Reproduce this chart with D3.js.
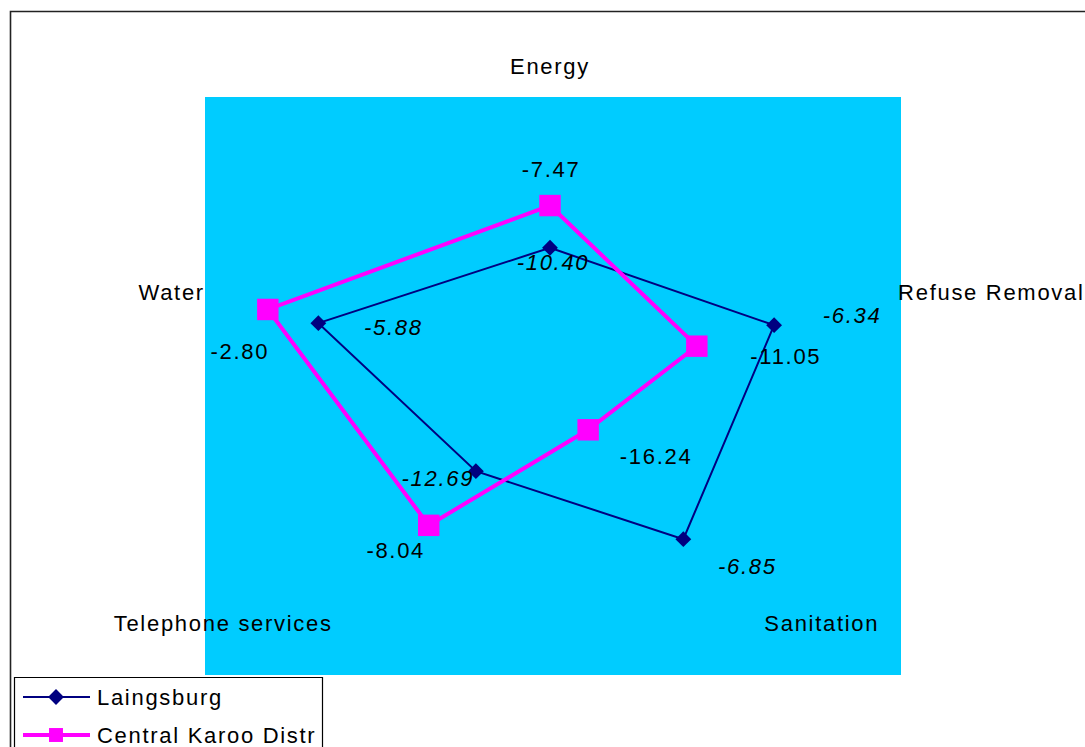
<!DOCTYPE html>
<html lang="en">
<head>
  <meta charset="UTF-8">
  <title>Radar chart - Laingsburg vs Central Karoo</title>
  <script src="https://d3js.org/d3.v7.min.js"></script>
  <style>
    body {
      margin: 0;
      padding: 0;
      background: #fff;
    }

    svg {
      display: block;
    }

    text {
      font-family: "Liberation Sans", Arial, sans-serif;
      font-size: 22px;
      letter-spacing: 1.7px;
      fill: #000;
    }
  </style>
</head>
<body>
  <div id="chart"></div>

  <script>
    // Chart data
    const categories = ["Energy", "Refuse Removal", "Sanitation", "Telephone services", "Water"];
    const seriesNames = ["Laingsburg", "Central Karoo Distr"];
    const laingsburg = [-10.40, -6.34, -6.85, -12.69, -5.88];
    const centralKaroo = [-7.47, -11.05, -16.24, -8.04, -2.80];
    const radialDomain = [-20, 0];

    // Dimensions
    const width = 1085;
    const height = 747;
    const cx = 550;
    const cy = 386;
    const plot = { x: 205, y: 97, w: 696, h: 578 };

    // radial scales (Excel stretched the radar horizontally)
    const rx = d3.scaleLinear().domain(radialDomain).range([0, 345]);
    const ry = d3.scaleLinear().domain(radialDomain).range([0, 288]);
    const angle = d3.scalePoint().domain(categories).range([0, 2 * Math.PI * 4 / 5]);

    const px = (cat, v) => cx + rx(v) * Math.sin(angle(cat));
    const py = (cat, v) => cy - ry(v) * Math.cos(angle(cat));

    // number format with a plain hyphen for the minus sign
    const fmt = d3.formatLocale({ decimal: ".", thousands: ",", grouping: [3], currency: ["", ""], minus: "-" }).format(".2f");

    // label placement tweaks (text anchor offsets)
    const catLabelOffsets = [[0, -24, "middle"], [20, 3, "start"], [69, 12, "middle"], [-124, 12, "middle"], [-17, 3, "end"]];
    const valueLabelOffsets = [
      [[3, 14], [78, -10], [64, 27], [-38, 7], [75, 4]],
      [[1, -36], [89, 10], [68, 26], [-33, 25], [-28, 42]]
    ];

    const series = [
      { name: seriesNames[0], values: laingsburg, color: "#000080", width: 2, symbol: "diamond", italic: true },
      { name: seriesNames[1], values: centralKaroo, color: "#FF00FF", width: 4, symbol: "square", italic: false }
    ];

    const svg = d3.create("svg")
      .attr("width", width)
      .attr("height", height)
      .attr("viewBox", [0, 0, width, height]);

    // chart border (runs off the right / bottom edge)
    svg.append("path")
      .attr("d", `M10.5,${height + 5} V11.5 H${width + 5}`)
      .attr("fill", "none")
      .attr("stroke", "#222")
      .attr("stroke-width", 1.6);

    // plot area
    svg.append("rect")
      .attr("x", plot.x)
      .attr("y", plot.y)
      .attr("width", plot.w)
      .attr("height", plot.h)
      .attr("fill", "#00CCFF");

    // category labels
    svg.append("g")
      .selectAll("text")
      .data(categories)
      .join("text")
      .attr("x", (d, i) => px(d, 0) + catLabelOffsets[i][0])
      .attr("y", (d, i) => py(d, 0) + catLabelOffsets[i][1])
      .attr("text-anchor", (d, i) => catLabelOffsets[i][2])
      .text(d => d);

    const line = d3.line()
      .x(d => px(d.cat, d.v))
      .y(d => py(d.cat, d.v))
      .curve(d3.curveLinearClosed);

    function marker(g, s, scale) {
      if (s.symbol === "diamond") {
        g.append("path")
          .attr("d", d3.symbol(d3.symbolSquare, 125 * scale * scale)())
          .attr("transform", "rotate(45)")
          .attr("fill", s.color);
      } else {
        g.append("path")
          .attr("d", d3.symbol(d3.symbolSquare, 460 * scale * scale)())
          .attr("fill", s.color);
      }
    }

    // series lines + markers
    series.forEach(s => {
      const pts = categories.map((cat, i) => ({ cat, v: s.values[i] }));
      const g = svg.append("g");
      g.append("path")
        .attr("d", line(pts))
        .attr("fill", "none")
        .attr("stroke", s.color)
        .attr("stroke-width", s.width)
        .attr("stroke-linejoin", "miter");
      g.selectAll("g.pt")
        .data(pts)
        .join("g")
        .attr("class", "pt")
        .attr("transform", d => `translate(${px(d.cat, d.v)},${py(d.cat, d.v)})`)
        .each(function () { marker(d3.select(this), s, 1); });
    });

    // data labels
    series.forEach((s, si) => {
      svg.append("g")
        .selectAll("text")
        .data(categories.map((cat, i) => ({ cat, v: s.values[i], i })))
        .join("text")
        .attr("x", d => px(d.cat, d.v) + valueLabelOffsets[si][d.i][0])
        .attr("y", d => py(d.cat, d.v) + valueLabelOffsets[si][d.i][1])
        .attr("dy", "0.36em")
        .attr("text-anchor", "middle")
        .attr("font-style", s.italic ? "italic" : "normal")
        .text(d => fmt(d.v));
    });

    // legend
    const legend = svg.append("g");
    legend.append("path")
      .attr("d", `M14.5,${height + 5} V677.5 H322.5 V${height + 5}`)
      .attr("fill", "#fff")
      .attr("stroke", "#000")
      .attr("stroke-width", 1.2);

    series.forEach((s, i) => {
      const y = 697 + i * 38;
      const item = legend.append("g").attr("transform", `translate(0,${y})`);
      item.append("line")
        .attr("x1", 23).attr("x2", 90)
        .attr("stroke", s.color)
        .attr("stroke-width", s.width);
      const m = item.append("g").attr("transform", "translate(56,0)");
      marker(m, s, s.symbol === "square" ? 0.65 : 1);
      item.append("text")
        .attr("x", 97)
        .attr("y", 8)
        .text(s.name);
    });

    document.getElementById("chart").appendChild(svg.node());
  </script>
</body>
</html>
